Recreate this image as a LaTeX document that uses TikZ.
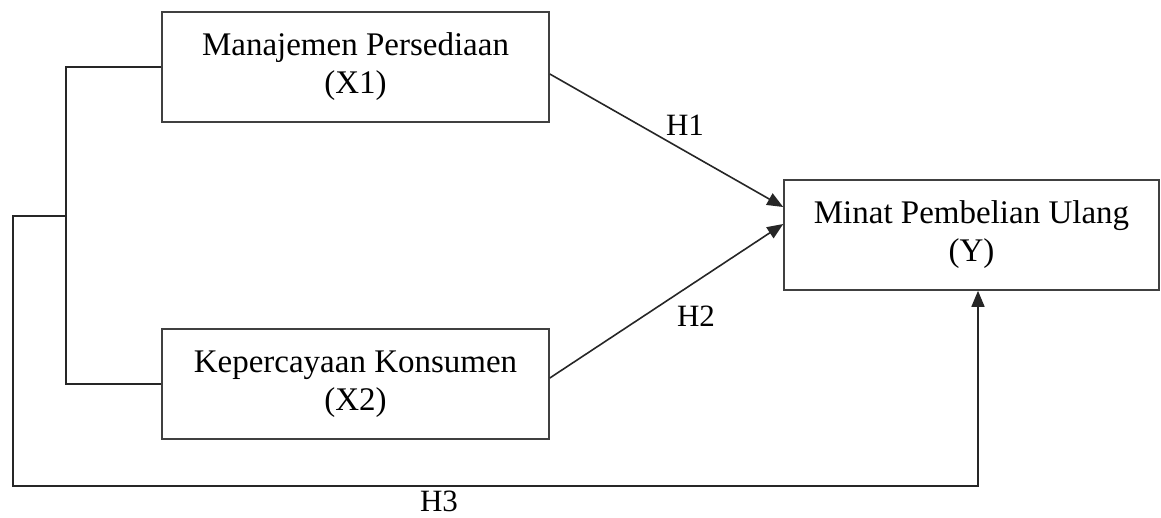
\documentclass[tikz,border=0pt]{standalone}
\usepackage{fontspec}
\setmainfont{Liberation Serif}
\usetikzlibrary{arrows.meta,calc}
\begin{document}
\begin{tikzpicture}[x=1pt,y=-1pt,
  varbox/.style={draw=black!75,line width=1.6pt,inner sep=0pt,align=center,
    font=\fontsize{33}{38}\selectfont},
  conn/.style={draw=black!85,line width=1.6pt},
  arr/.style={conn,-{Triangle[length=16pt,width=13pt]}},
  lbl/.style={inner sep=0pt,font=\fontsize{31}{36}\selectfont}]
\useasboundingbox (0,0) rectangle (1161,517);
\node[varbox,minimum width=387pt,minimum height=110pt] (X1) at (355.5,67) {Manajemen Persediaan\\(X1)};
\node[varbox,minimum width=387pt,minimum height=110pt] (X2) at (355.5,384) {Kepercayaan Konsumen\\(X2)};
\node[varbox,minimum width=375pt,minimum height=110pt] (Y) at (971.5,235) {Minat Pembelian Ulang\\(Y)};
\coordinate (J) at (67,216);
\coordinate (B) at (978,486);
\draw[conn] (X1.west) -- ++(-95,0) |- (X2.west);
\draw[arr] (J) -| (13,486) -- (B) -- (B |- Y.south);
\draw[arr] ($(X1.east)+(0,7)$) -- ($(Y.west)+(0,-28)$);
\draw[arr] ($(X2.east)+(0,-6)$) -- ($(Y.west)+(0,-11)$);
\node[lbl] (H1) at (685,125) {H1};
\node[lbl] (H2) at (696,316) {H2};
\node[lbl,anchor=base] (H3) at (439,511) {H3};
\end{tikzpicture}
\end{document}
